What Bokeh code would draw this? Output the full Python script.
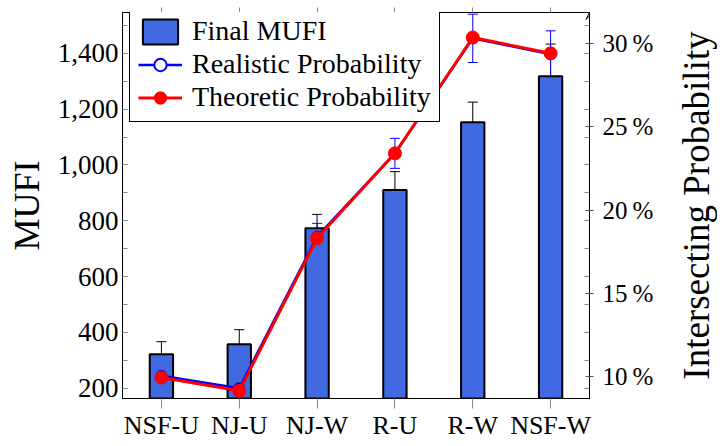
from bokeh.plotting import figure
from bokeh.layouts import row
from bokeh.models import (FactorRange, Range1d, LinearAxis, CategoricalAxis, FixedTicker,
                          NumeralTickFormatter, Whisker, TeeHead, ColumnDataSource, Legend,
                          LegendItem, Arrow, VeeHead)
from bokeh.embed import file_html
from bokeh.resources import INLINE

# ---- data ----
categories = ["NSF-U", "NJ-U", "NJ-W", "R-U", "R-W", "NSF-W"]
mufi = [322, 358, 773, 910, 1153, 1318]
mufi_err = [45, 52, 50, 66, 72, 115]
realistic = [10.05, 9.3, 18.4, 23.4, 30.3, 29.35]
realistic_err = [0.5, 0.8, 0.8, 0.9, 1.45, 1.4]
theoretic = [9.95, 9.15, 18.3, 23.4, 30.35, 29.4]
mufi_ticks = [200, 400, 600, 800, 1000, 1200, 1400]
mufi_minor = list(range(200, 1600, 100))
pct_ticks = [10, 15, 20, 25, 30]

FONT = "Liberation Serif"
GRAY = "#8a8a8a"
P_LO, P_HI = 8.69, 31.85

src = ColumnDataSource(dict(
    cat=categories, mufi=mufi,
    mufi_up=[m + e for m, e in zip(mufi, mufi_err)],
    mufi_lo=[m - e for m, e in zip(mufi, mufi_err)],
    real=realistic,
    real_up=[m + e for m, e in zip(realistic, realistic_err)],
    real_lo=[m - e for m, e in zip(realistic, realistic_err)],
    theo=theoretic,
))

p = figure(x_range=FactorRange(factors=categories, range_padding=0),
           y_range=Range1d(163.5, 1546),
           frame_width=467, frame_height=386,
           output_backend="svg", toolbar_location=None,
           min_border_left=122, min_border_right=83, min_border_top=12, min_border_bottom=0)
p.extra_y_ranges = {"prob": Range1d(P_LO, P_HI)}
p.xgrid.visible = False
p.ygrid.visible = False
p.outline_line_color = "black"
p.outline_line_width = 1
p.outline_line_alpha = 1

# bars
bars = p.vbar(x="cat", top="mufi", bottom=0, width=0.3, source=src,
              fill_color="#4169E1", line_color="black", line_width=2)
p.add_layout(Whisker(base="cat", upper="mufi_up", lower="mufi_lo", source=src,
                     line_color="black", line_width=1,
                     upper_head=TeeHead(size=10, line_color="black", line_width=1),
                     lower_head=TeeHead(size=10, line_color="black", line_width=1)))

# realistic
bl = p.line(x="cat", y="real", source=src, y_range_name="prob", line_color="blue", line_width=2.5)
bs = p.scatter(x="cat", y="real", source=src, y_range_name="prob", size=10,
               fill_color="white", line_color="blue", line_width=2)
p.add_layout(Whisker(base="cat", upper="real_up", lower="real_lo", source=src, y_range_name="prob",
                     line_color="blue", line_width=1,
                     upper_head=TeeHead(size=10, line_color="blue", line_width=1),
                     lower_head=TeeHead(size=10, line_color="blue", line_width=1)))

# theoretic
rl = p.line(x="cat", y="theo", source=src, y_range_name="prob", line_color="red", line_width=3)
rs = p.scatter(x="cat", y="theo", source=src, y_range_name="prob", size=13,
               fill_color="red", line_color="red")

# left axis
ya = p.yaxis[0]
ya.ticker = FixedTicker(ticks=mufi_ticks, minor_ticks=mufi_minor)
ya.formatter = NumeralTickFormatter(format="0,0")
ya.major_tick_in = 5
ya.major_tick_out = 0
ya.minor_tick_in = 5
ya.minor_tick_out = 0
ya.major_tick_line_color = GRAY
ya.minor_tick_line_color = GRAY
ya.axis_line_color = "black"
ya.major_label_text_font = FONT
ya.major_label_text_font_size = "27px"
ya.major_label_text_color = "black"
ya.major_label_standoff = 4
ya.axis_label = "MUFI"
ya.axis_label_text_font = FONT
ya.axis_label_text_font_size = "36px"
ya.axis_label_text_font_style = "normal"
ya.axis_label_text_color = "black"
ya.axis_label_standoff = 8

# bottom axis
xa = p.xaxis[0]
xa.major_tick_out = 10
xa.major_tick_in = 0
xa.major_tick_line_color = GRAY
xa.axis_line_color = "black"
xa.major_label_text_font = FONT
xa.major_label_text_font_size = "26px"
xa.major_label_text_color = "black"
xa.major_label_standoff = 2

# top axis (ticks only, labels not drawn)
top = CategoricalAxis(major_label_text_font_size="1px", major_label_text_color=None,
                      major_tick_out=5, major_tick_in=0,
                      major_tick_line_color=GRAY, axis_line_color="black", major_label_standoff=0)
p.add_layout(top, "above")

# mirrored MUFI ticks on the right (labels not drawn)
mirror = LinearAxis(ticker=FixedTicker(ticks=mufi_ticks, minor_ticks=mufi_minor),
                    major_label_text_font_size="1px", major_label_text_color=None,
                    major_label_standoff=0,
                    major_tick_in=5, major_tick_out=0, minor_tick_in=5, minor_tick_out=0,
                    major_tick_line_color=GRAY, minor_tick_line_color=GRAY,
                    axis_line_color="black")
p.add_layout(mirror, "right")

# percent axis
pax = LinearAxis(y_range_name="prob",
                 ticker=FixedTicker(ticks=pct_ticks, minor_ticks=[]),
                 major_label_overrides={t: f"{t}\u2009%" for t in pct_ticks},
                 major_tick_in=4, major_tick_out=4, major_tick_line_color="#555555",
                 axis_line_color="black",
                 major_label_text_font=FONT, major_label_text_font_size="25px",
                 major_label_text_color="black", major_label_standoff=9)
p.add_layout(pax, "right")

# arrow tip at top of the right axis
p.add_layout(Arrow(x_start=len(categories), x_end=len(categories), y_start=31.0, y_end=P_HI,
                   y_range_name="prob", line_color="black", line_width=1,
                   end=VeeHead(size=7, line_color="black", line_width=1, fill_alpha=0)))

legend = Legend(items=[
    LegendItem(label="Final MUFI", renderers=[bars]),
    LegendItem(label="Realistic Probability", renderers=[bl, bs]),
    LegendItem(label="Theoretic Probability", renderers=[rl, rs]),
], location=(7, 276))
legend.border_line_color = "black"
legend.border_line_width = 1
legend.border_line_alpha = 1
legend.background_fill_alpha = 1
legend.label_text_font = FONT
legend.label_text_font_size = "28px"
legend.label_text_line_height = 1.0
legend.label_text_color = "black"
legend.glyph_width = 44
legend.glyph_height = 31
legend.label_height = 31
legend.spacing = 1
legend.padding = 8
legend.margin = 0
legend.label_standoff = 10
p.add_layout(legend)

# narrow companion figure carrying the right-hand title (reads bottom-to-top)
p2 = figure(x_range=Range1d(0, 1), y_range=Range1d(P_LO, P_HI),
            frame_width=1, frame_height=386, output_backend="svg", toolbar_location=None,
            x_axis_location=None, min_border_left=0, min_border_right=0,
            min_border_top=12, min_border_bottom=0)
p2.xgrid.visible = False
p2.ygrid.visible = False
p2.outline_line_color = None
ax2 = p2.yaxis[0]
ax2.ticker = FixedTicker(ticks=[], minor_ticks=[])
ax2.axis_line_color = None
ax2.major_tick_out = 0
ax2.major_tick_in = 0
ax2.minor_tick_out = 0
ax2.minor_tick_in = 0
ax2.major_label_standoff = 0
ax2.axis_label = "Intersecting Probability"
ax2.axis_label_text_font = FONT
ax2.axis_label_text_font_size = "37px"
ax2.axis_label_text_font_style = "normal"
ax2.axis_label_text_color = "black"
ax2.axis_label_standoff = 0

layout = row(p, p2)
open("out.html", "w").write(file_html(layout, INLINE))
